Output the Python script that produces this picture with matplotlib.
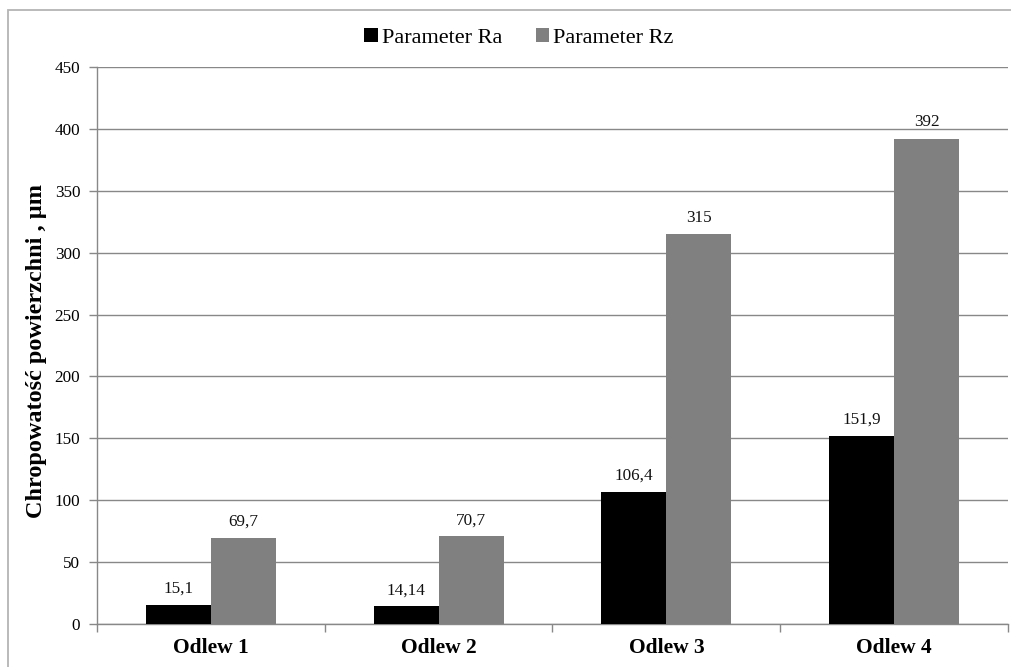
import matplotlib
matplotlib.use("Agg")
import matplotlib.pyplot as plt
from matplotlib.patches import Rectangle
import numpy as np

categories = ["Odlew 1", "Odlew 2", "Odlew 3", "Odlew 4"]
ra_values = [15.1, 14.14, 106.4, 151.9]
rz_values = [69.7, 70.7, 315, 392]
ra_labels = ["15,1", "14,14", "106,4", "151,9"]
rz_labels = ["69,7", "70,7", "315", "392"]
series_names = ["Parameter Ra", "Parameter Rz"]
y_ticks = [0, 50, 100, 150, 200, 250, 300, 350, 400, 450]

plt.rcParams["font.family"] = ["Liberation Serif", "DejaVu Serif"]

W, H = 1012, 667
fig = plt.figure(figsize=(W / 100, H / 100), dpi=100)

# outer chart frame
fig.patches.append(Rectangle((8 / W, -0.05), 1.1, 1 - 10 / H + 0.05,
                             transform=fig.transFigure, fill=False,
                             edgecolor="#b4b4b4", linewidth=1.3))

ax = fig.add_axes([97 / W, 1 - 624 / H, (1008 - 97) / W, (624 - 67) / H])

x = np.arange(len(categories))
bw = 0.285
grid_c = "#888888"

bars_ra = ax.bar(x - bw / 2, ra_values, bw, color="#000000", label=series_names[0], zorder=3)
bars_rz = ax.bar(x + bw / 2, rz_values, bw, color="#808080", label=series_names[1], zorder=3)

for bars, labels in ((bars_ra, ra_labels), (bars_rz, rz_labels)):
    for b, lab in zip(bars, labels):
        ax.annotate(lab, (b.get_x() + b.get_width() / 2, b.get_height()),
                    xytext=(0, 6), textcoords="offset points", ha="center", va="bottom",
                    fontsize=12.3, color="#111111")

ax.set_xlim(-0.5, len(categories) - 0.5)
ax.set_ylim(0, 450)
ax.set_yticks(y_ticks)
ax.set_yticklabels([str(v) for v in y_ticks], fontsize=12.3)
ax.yaxis.grid(True, color=grid_c, linewidth=1.0, zorder=0)

ax.set_xticks(x)
ax.set_xticklabels(categories, fontsize=15.5, fontweight="bold")
ax.tick_params(axis="x", length=0, pad=10)
ax.tick_params(axis="y", length=6, color=grid_c, width=1.0, pad=6)

# category boundary ticks below the axis
ax.set_xticks(np.arange(-0.5, len(categories)), minor=True)
ax.tick_params(axis="x", which="minor", length=6, color=grid_c, width=1.0)

for s in ["top", "right"]:
    ax.spines[s].set_visible(False)
for s in ["left", "bottom"]:
    ax.spines[s].set_color(grid_c)
    ax.spines[s].set_linewidth(1.0)

ax.set_ylabel("Chropowatość powierzchni , µm", fontsize=17.5, fontweight="bold")
ax.yaxis.set_label_coords(-0.055, 0.49)

fig.legend(handles=[bars_ra, bars_rz], labels=series_names, loc="center",
           bbox_to_anchor=(519 / W, 1 - 38 / H), ncol=2, frameon=False,
           fontsize=16, handlelength=0.6, handleheight=0.6, handletextpad=0.2,
           columnspacing=1.5)

fig.savefig("out.png", dpi=100)
